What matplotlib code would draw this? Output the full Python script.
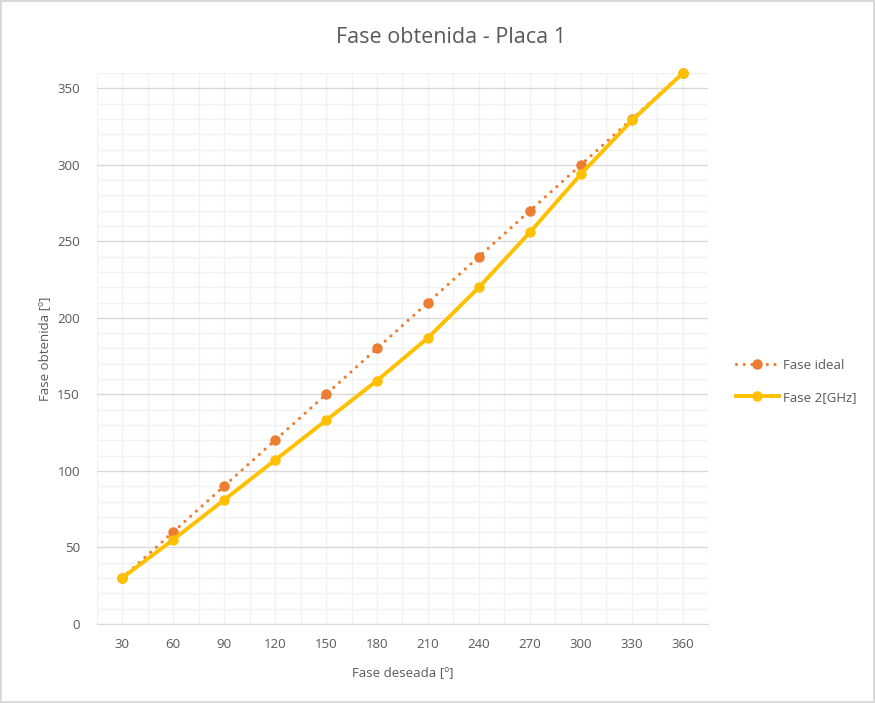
import numpy as np
import matplotlib.pyplot as plt
from matplotlib.ticker import MultipleLocator

categories = [30, 60, 90, 120, 150, 180, 210, 240, 270, 300, 330, 360]
fase_ideal = [30, 60, 90, 120, 150, 180, 210, 240, 270, 300, 330, 360]
fase_2ghz = [30, 55, 81, 107, 133, 159, 187, 220, 256, 294, 329, 360]

plt.rcParams['font.family'] = ['Open Sans', 'DejaVu Sans']
text_color = '#595959'

fig = plt.figure(figsize=(8.75, 7.03), dpi=100)
fig.patch.set_edgecolor('#D9D9D9')
fig.patch.set_linewidth(1.5)
ax = fig.add_axes([0.1103, 0.1124, 0.6994, 0.7838])

x = np.arange(1, len(categories) + 1)

ax.plot(x, fase_ideal, color='#ED7D31', linestyle=(0, (0.01, 2.4)), dash_capstyle='round',
        linewidth=2.3, marker='o', markersize=6.5, label='Fase ideal', zorder=3, clip_on=False)
ax.plot(x, fase_2ghz, color='#FFC000', linewidth=2.8, marker='o', markersize=6.5,
        label='Fase 2[GHz]', zorder=4, clip_on=False)

ax.set_xlim(0.5, len(categories) + 0.5)
ax.set_ylim(0, 360)
ax.set_xticks(x)
ax.set_xticklabels([str(c) for c in categories])
ax.xaxis.set_minor_locator(MultipleLocator(0.5))
ax.yaxis.set_major_locator(MultipleLocator(50))
ax.yaxis.set_minor_locator(MultipleLocator(10))

ax.grid(which='major', axis='y', color='#D9D9D9', linewidth=1.0)
ax.grid(which='minor', axis='y', color='#F2F2F2', linewidth=1.0)
ax.grid(which='both', axis='x', color='#F2F2F2', linewidth=1.0)
ax.set_axisbelow(True)

for s in ['top', 'right', 'left']:
    ax.spines[s].set_visible(False)
ax.spines['bottom'].set_color('#D9D9D9')
ax.tick_params(which='both', length=0, colors=text_color, labelsize=9.5)
ax.tick_params(axis='x', pad=10)
ax.tick_params(axis='y', pad=12)

ax.set_xlabel('Fase deseada [º]', color=text_color, fontsize=9.5, labelpad=11)
ax.set_ylabel('Fase obtenida [º]', color=text_color, fontsize=9.5, labelpad=4)
fig.suptitle('Fase obtenida - Placa 1', color=text_color, fontsize=15.5, x=0.515, y=0.962)

leg = ax.legend(loc='center left', bbox_to_anchor=(1.025, 0.44), frameon=False,
                fontsize=9.5, handlelength=3.3, labelspacing=1.45, handletextpad=0.3)
for t in leg.get_texts():
    t.set_color(text_color)

fig.savefig('out.png', dpi=100)
